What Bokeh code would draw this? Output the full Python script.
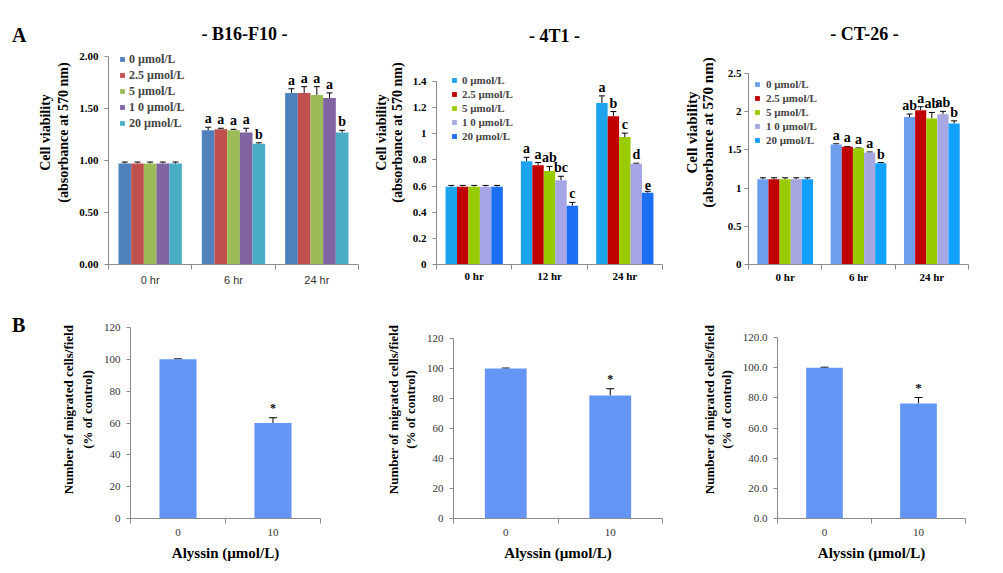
from bokeh.plotting import figure
from bokeh.models import (ColumnDataSource, FixedTicker, Whisker, TeeHead,
                          Legend, LegendItem, Label, Range1d, Div)
from bokeh.layouts import row, column
from bokeh.embed import file_html
from bokeh.resources import INLINE
from bokeh.core.properties import value

SERIF = "Liberation Serif"
SANS = "Liberation Sans"
AXIS = "#8c8c8c"

# ---------------- data ----------------
doses = ["0 µmol/L", "2.5 µmol/L", "5 µmol/L", "1 0 µmol/L", "20 µmol/L"]

# B16-F10
b16_times = ["0 hr", "6 hr", "24 hr"]
b16_0hr = [0.97, 0.97, 0.97, 0.97, 0.97]
b16_6hr = [1.29, 1.30, 1.29, 1.27, 1.16]
b16_24hr = [1.65, 1.65, 1.63, 1.60, 1.27]
b16_err_0hr = [0.015, 0.015, 0.015, 0.015, 0.015]
b16_err_6hr = [0.03, 0.01, 0.01, 0.04, 0.01]
b16_err_24hr = [0.04, 0.06, 0.08, 0.05, 0.02]
b16_let_0hr = ["", "", "", "", ""]
b16_let_6hr = ["a", "a", "a", "a", "b"]
b16_let_24hr = ["a", "a", "a", "a", "b"]
b16_yticks = [0, 0.5, 1.0, 1.5, 2.0]
b16_yticklabels = ["0.00", "0.50", "1.00", "1.50", "2.00"]

# 4T1
t41_times = ["0 hr", "12 hr", "24 hr"]
t41_0hr = [0.595, 0.595, 0.595, 0.595, 0.595]
t41_12hr = [0.79, 0.76, 0.715, 0.645, 0.45]
t41_24hr = [1.235, 1.135, 0.975, 0.77, 0.548]
t41_err_0hr = [0.01, 0.01, 0.01, 0.01, 0.01]
t41_err_12hr = [0.03, 0.02, 0.035, 0.03, 0.025]
t41_err_24hr = [0.055, 0.035, 0.03, 0.005, 0.012]
t41_let_0hr = ["", "", "", "", ""]
t41_let_12hr = ["a", "a", "ab", "bc", "c"]
t41_let_24hr = ["a", "b", "c", "d", "e"]
t41_yticks = [0, 0.2, 0.4, 0.6, 0.8, 1, 1.2, 1.4]
t41_yticklabels = ["0", "0.2", "0.4", "0.6", "0.8", "1", "1.2", "1.4"]

# CT-26
ct26_times = ["0 hr", "6 hr", "24 hr"]
ct26_0hr = [1.115, 1.115, 1.115, 1.115, 1.115]
ct26_6hr = [1.57, 1.54, 1.52, 1.465, 1.325]
ct26_24hr = [1.93, 2.02, 1.91, 1.965, 1.845]
ct26_err_0hr = [0.02, 0.02, 0.02, 0.02, 0.02]
ct26_err_6hr = [0.01, 0.005, 0.005, 0.008, 0.01]
ct26_err_24hr = [0.04, 0.045, 0.08, 0.04, 0.035]
ct26_let_0hr = ["", "", "", "", ""]
ct26_let_6hr = ["a", "a", "a", "a", "b"]
ct26_let_24hr = ["ab", "a", "ab", "ab", "b"]
ct26_yticks = [0, 0.5, 1, 1.5, 2, 2.5]
ct26_yticklabels = ["0", "0.5", "1", "1.5", "2", "2.5"]

# Migration (panel B)
mig_doses = ["0", "10"]
mig_b16 = [100, 60]
mig_b16_err = [0.3, 3.3]
mig_t41 = [100, 82]
mig_t41_err = [0.3, 4.5]
mig_ct26 = [100, 76.2]
mig_ct26_err = [0.3, 4.0]
mig_stars = ["", "*"]
mig_yticks = [0, 20, 40, 60, 80, 100, 120]
mig_yticklabels = ["0", "20", "40", "60", "80", "100", "120"]
mig_yticklabels_dec = ["0.0", "20.0", "40.0", "60.0", "80.0", "100.0", "120.0"]

# colours
b16_colors = ["#4F81BD", "#C0504D", "#9BBB59", "#8064A2", "#4BACC6"]
t41_colors = ["#1CA3EC", "#C00000", "#99CC00", "#A6A6E6", "#1A6FF5"]
ct26_colors = ["#6D9EEB", "#C00000", "#99CC00", "#A6A6E0", "#12A0FF"]
mig_color = "#6495F5"

BW = 0.152


def base_fig(w, h, l, r, b, nx, yticks, top_px):
    # frame fills the figure from its top edge; the axis itself ends top_px
    # below that edge (axis bounds keep the line to the tick range)
    frame_h = h - b
    y0, y1 = yticks[0], yticks[-1]
    y_end = y1 + (y1 - y0) * top_px / (frame_h - top_px)
    p = figure(width=w, height=h, x_range=Range1d(0, nx),
               y_range=Range1d(y0, y_end),
               output_backend="svg", toolbar_location=None,
               min_border_left=l, min_border_right=r,
               min_border_top=0, min_border_bottom=b,
               outline_line_color=None, background_fill_color="white")
    p.grid.visible = False
    return p


def style_axes(p, cats, yticks, yticklabels, ylabel, xlabel, c):
    xa = p.xaxis[0]
    ya = p.yaxis[0]
    n = len(cats)
    xa.ticker = FixedTicker(ticks=[i + 0.5 for i in range(n)],
                            minor_ticks=list(range(n + 1)))
    xa.major_label_overrides = {i + 0.5: t for i, t in enumerate(cats)}
    xa.major_tick_out = 0
    xa.major_tick_in = 0
    xa.minor_tick_out = 5
    xa.minor_tick_in = 0
    xa.axis_line_color = AXIS
    xa.minor_tick_line_color = AXIS
    xa.major_label_text_font = c["xfont"]
    xa.major_label_text_font_style = c["xstyle"]
    xa.major_label_text_font_size = c["xsize"]
    xa.major_label_text_color = c["xcolor"]
    xa.major_label_standoff = c["xstand"]
    if xlabel:
        xa.axis_label = xlabel
        xa.axis_label_text_font = SERIF
        xa.axis_label_text_font_style = "bold"
        xa.axis_label_text_font_size = "15px"
        xa.axis_label_text_color = "black"
        xa.axis_label_standoff = 6

    ya.bounds = (yticks[0], yticks[-1])
    ya.ticker = FixedTicker(ticks=yticks, minor_ticks=[])
    ya.major_label_overrides = {t: s for t, s in zip(yticks, yticklabels)}
    ya.major_tick_out = 4
    ya.major_tick_in = 0
    ya.minor_tick_out = 0
    ya.axis_line_color = AXIS
    ya.major_tick_line_color = AXIS
    ya.major_label_text_font = SERIF
    ya.major_label_text_font_style = c["ystyle"]
    ya.major_label_text_font_size = "11px"
    ya.major_label_text_color = c["ycolor"]
    ya.major_label_standoff = c["ystand"]
    ya.axis_label = ylabel
    ya.axis_label_text_font = SERIF
    ya.axis_label_text_font_style = "bold"
    ya.axis_label_text_font_size = c["ylsize"]
    ya.axis_label_text_color = "black"
    ya.axis_label_standoff = c["ylstand"]
    ya.axis_label_text_line_height = c["ylline"]


def panel_a(times, groups, errs, lets, colors, yticks, yticklabels, c):
    n = len(times)
    p = base_fig(c["w"], 300, c["l"], c["r"], c["b"], n, yticks, c["top"])
    nd = len(doses)
    items = []
    wx, wlo, whi, wtxt = [], [], [], []
    for j in range(nd):
        xs = [i + 0.5 + (j - (nd - 1) / 2) * BW for i in range(n)]
        tops = [groups[i][j] for i in range(n)]
        r = p.vbar(x=xs, top=tops, bottom=0, width=BW,
                   fill_color=colors[j], line_color=None)
        items.append(LegendItem(label=value(doses[j]), renderers=[r]))
        for i in range(n):
            wx.append(xs[i])
            wlo.append(groups[i][j])
            whi.append(groups[i][j] + errs[i][j])
            wtxt.append(lets[i][j])
    src = ColumnDataSource(dict(x=wx, lo=wlo, hi=whi, txt=wtxt))
    p.add_layout(Whisker(source=src, base="x", lower="lo", upper="hi",
                         line_color="black", line_width=1,
                         upper_head=TeeHead(size=6, line_color="black", line_width=1),
                         lower_head=None))
    p.text(x="x", y="hi", text="txt", source=src, text_font=value(SERIF),
           text_font_style="bold", text_font_size=c["letsize"],
           text_align="center", text_baseline="bottom", y_offset=-1,
           text_color="black")
    leg = Legend(items=items, location=c["legloc"], glyph_width=6, glyph_height=6,
                 label_text_font=SERIF, label_text_font_style="bold",
                 label_text_font_size=c["legsize"], label_height=c["legh"],
                 spacing=c["legsp"], padding=0, margin=0, label_standoff=c["legstand"],
                 background_fill_alpha=0, border_line_alpha=0)
    p.add_layout(leg)
    style_axes(p, times, yticks, yticklabels,
               "Cell viability\n(absorbance at 570 nm)", None, c)
    p.add_layout(Label(x=c["tx"], y=c["ty"], x_units="screen", y_units="screen",
                       text=c["title"], text_align="center", text_baseline="middle",
                       text_font=SERIF, text_font_style="bold",
                       text_font_size="18px", text_color="black"))
    return p


def panel_b(vals, errs, yticks, yticklabels, c):
    n = len(mig_doses)
    p = base_fig(c["w"], 273, c["l"], c["r"], c["b"], n, yticks, c["top"])
    xs = [i + 0.5 for i in range(n)]
    p.vbar(x=xs, top=vals, bottom=0, width=c["bw"], fill_color=mig_color,
           line_color=None)
    src = ColumnDataSource(dict(x=xs, lo=vals,
                                hi=[v + e for v, e in zip(vals, errs)],
                                txt=mig_stars))
    p.add_layout(Whisker(source=src, base="x", lower="lo", upper="hi",
                         line_color="black", line_width=1,
                         upper_head=TeeHead(size=8, line_color="black", line_width=1),
                         lower_head=None))
    p.text(x="x", y="hi", text="txt", source=src, text_font=value(SERIF),
           text_font_style="bold", text_font_size=c["starsize"],
           text_align="center", text_baseline="bottom", y_offset=-3,
           text_color="black")
    style_axes(p, mig_doses, yticks, yticklabels,
               "Number of migrated cells/field\n(% of control)",
               "Alyssin (µmol/L)", c)
    return p


def letter_div(txt, pad_top):
    return Div(text=('<div style="font-family:\'Liberation Serif\',serif;'
                     'font-weight:bold;font-size:20px;line-height:20px;'
                     'color:black;padding:%dpx 0 0 12px;">%s</div>' % (pad_top, txt)),
               width=35, height=40, margin=0)


common_a = dict(ycolor="black", ystyle="bold", b=36)
c1 = dict(common_a, w=335, l=72, r=12, top=56, xfont=SANS, xstyle="normal",
          xsize="11px", xcolor="#333333", xstand=4, ystand=6, ylsize="14px",
          ylstand=5, ylline=1.2, letsize="14px", legloc=(11, 133), legsize="12px",
          legh=16, legsp=0, legstand=4, tx=136, ty=231, title="- B16-F10 -")
c2 = dict(common_a, w=310, l=57, r=18, top=81, xfont=SERIF, xstyle="bold",
          xsize="11px", xcolor="black", xstand=0, ystand=6, ylsize="14px",
          ylstand=5, ylline=1.05, letsize="14px", legloc=(15, 122), legsize="11px",
          legh=13, legsp=1, legstand=5, tx=118, ty=229, title="- 4T1 -")
c3 = dict(common_a, w=323, l=67, r=35, top=73, xfont=SERIF, xstyle="bold",
          xsize="11px", xcolor="black", xstand=1, ystand=3, ylsize="15px",
          ylstand=9, ylline=1.0, letsize="14px", legloc=(6, 118), legsize="11px",
          legh=13, legsp=1, legstand=6, tx=116, ty=231, title="- CT-26 -")

common_b = dict(ycolor="#333333", ystyle="normal", xfont=SERIF, xstyle="normal",
                xsize="11px", xcolor="#333333", xstand=5, ylsize="13px", b=55)
d1 = dict(common_b, w=335, l=95, r=50, top=27, ystand=6, ylstand=6,
          ylline=1.3, bw=0.39, starsize="12px")
d2 = dict(common_b, w=310, l=83, r=18, top=38, ystand=6, ylstand=6,
          ylline=1.15, bw=0.40, starsize="12px")
d3 = dict(common_b, w=323, l=97, r=38, top=37, ystand=6, ylstand=6,
          ylline=1.15, bw=0.39, starsize="13px")

a1 = panel_a(b16_times, [b16_0hr, b16_6hr, b16_24hr],
             [b16_err_0hr, b16_err_6hr, b16_err_24hr],
             [b16_let_0hr, b16_let_6hr, b16_let_24hr],
             b16_colors, b16_yticks, b16_yticklabels, c1)
a2 = panel_a(t41_times, [t41_0hr, t41_12hr, t41_24hr],
             [t41_err_0hr, t41_err_12hr, t41_err_24hr],
             [t41_let_0hr, t41_let_12hr, t41_let_24hr],
             t41_colors, t41_yticks, t41_yticklabels, c2)
a3 = panel_a(ct26_times, [ct26_0hr, ct26_6hr, ct26_24hr],
             [ct26_err_0hr, ct26_err_6hr, ct26_err_24hr],
             [ct26_let_0hr, ct26_let_6hr, ct26_let_24hr],
             ct26_colors, ct26_yticks, ct26_yticklabels, c3)

b1 = panel_b(mig_b16, mig_b16_err, mig_yticks, mig_yticklabels, d1)
b2 = panel_b(mig_t41, mig_t41_err, mig_yticks, mig_yticklabels, d2)
b3 = panel_b(mig_ct26, mig_ct26_err, mig_yticks, mig_yticklabels_dec, d3)

layout = column(row(letter_div("A", 25), a1, a2, a3),
                row(letter_div("B", 15), b1, b2, b3))
open("out.html", "w").write(file_html(layout, INLINE))
